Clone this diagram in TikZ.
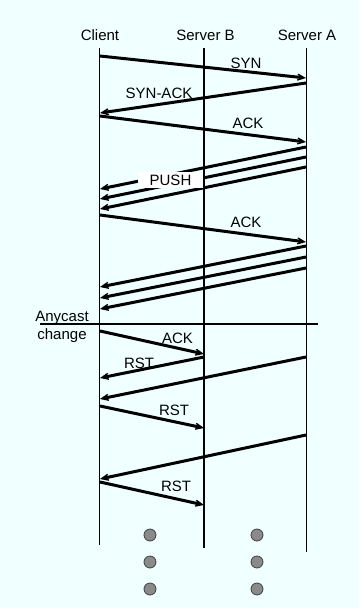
\documentclass[tikz,border=0pt]{standalone}
\usepackage{fontspec}
\setmainfont{Liberation Sans}
\usetikzlibrary{arrows.meta}
\definecolor{bgc}{HTML}{F0FFFF}
\definecolor{dotc}{HTML}{8A8A8A}
\begin{document}
\begin{tikzpicture}[x=1pt,y=-1pt,
  lbl/.style={font=\fontsize{15}{17}\selectfont, inner sep=0pt, anchor=base},
  life/.style={line width=1.2pt},
  msg/.style={line width=3pt, -{Stealth[length=15pt,width=13pt,inset=10pt]}},
  dotn/.style={circle, fill=dotc, draw=black!75, line width=0.8pt, minimum size=12pt, inner sep=0pt},
  pushbox/.style={fill=white, font=\fontsize{15}{17}\selectfont, inner xsep=11.5pt, inner ysep=2.6pt}]
\fill[bgc] (0,0) rectangle (359,608);
\useasboundingbox (0,0) rectangle (359,608);

% headers
\node[lbl] (lc) at (100,40) {Client};
\node[lbl] (lb) at (205.5,40) {Server B};
\node[lbl] (la) at (307,40) {Server A};

% lifelines
\coordinate (ct) at (99.5,48);  \coordinate (cb) at (99.5,545);
\coordinate (bt) at (204,48);   \coordinate (bb) at (204,548);
\coordinate (at) at (306.5,48); \coordinate (ab) at (306.5,552);
\draw[life] (ct) -- (cb);
\draw[life] (bt) -- (bb);
\draw[life] (at) -- (ab);

% handshake
\coordinate (m1s) at (100,56);  \coordinate (m1e) at (306,78);
\coordinate (m2s) at (306,83);  \coordinate (m2e) at (100,113);
\coordinate (m3s) at (100,116); \coordinate (m3e) at (306,142);
\draw[msg] (m1s) -- (m1e);
\draw[msg] (m2s) -- (m2e);
\draw[msg] (m3s) -- (m3e);
\node[lbl] (tsyn) at (246,68) {SYN};
\node[lbl] (tsynack) at (159,98) {SYN-ACK};
\node[lbl] (tack1) at (248,128) {ACK};

% push data
\coordinate (p1s) at (306,147); \coordinate (p1e) at (100,189);
\coordinate (p2s) at (306,157); \coordinate (p2e) at (100,199);
\coordinate (p3s) at (306,167); \coordinate (p3e) at (100,209);
\draw[msg] (p1s) -- (p1e);
\draw[msg] (p2s) -- (p2e);
\draw[msg] (p3s) -- (p3e);
\node[pushbox] (tpush) at (170.5,180) {PUSH};

\coordinate (m4s) at (100,215); \coordinate (m4e) at (306,242);
\draw[msg] (m4s) -- (m4e);
\node[lbl] (tack2) at (246,227) {ACK};

\coordinate (q1s) at (306,246); \coordinate (q1e) at (100,287);
\coordinate (q2s) at (306,257); \coordinate (q2e) at (100,298);
\coordinate (q3s) at (306,268); \coordinate (q3e) at (100,309);
\draw[msg] (q1s) -- (q1e);
\draw[msg] (q2s) -- (q2e);
\draw[msg] (q3s) -- (q3e);

% anycast change
\coordinate (hl) at (40,324); \coordinate (hr) at (318,324);
\draw[life] (hl) -- (hr);
\node[lbl] (tany) at (62,321.5) {Anycast};
\node[lbl] (tchg) at (62,339) {change};

\coordinate (r1s) at (100,331); \coordinate (r1e) at (204,354);
\draw[msg] (r1s) -- (r1e);
\node[lbl] (tack3) at (177.5,343) {ACK};

\coordinate (r2s) at (204,357); \coordinate (r2e) at (100,378);
\draw[msg] (r2s) -- (r2e);
\node[lbl] (trst1) at (139,368) {RST};

\coordinate (r3s) at (306,357); \coordinate (r3e) at (100,399);
\draw[msg] (r3s) -- (r3e);

\coordinate (r4s) at (100,406); \coordinate (r4e) at (204,428);
\draw[msg] (r4s) -- (r4e);
\node[lbl] (trst2) at (174,415) {RST};

\coordinate (r5s) at (306,435); \coordinate (r5e) at (100,479);
\draw[msg] (r5s) -- (r5e);

\coordinate (r6s) at (100,482); \coordinate (r6e) at (204,505);
\draw[msg] (r6s) -- (r6e);
\node[lbl] (trst3) at (176,491) {RST};

% continuation dots
\node[dotn] (d1) at (150,535) {};
\node[dotn] (d2) at (150,562) {};
\node[dotn] (d3) at (150,589) {};
\node[dotn] (d4) at (257,535) {};
\node[dotn] (d5) at (257,562) {};
\node[dotn] (d6) at (257,589) {};
\end{tikzpicture}
\end{document}
